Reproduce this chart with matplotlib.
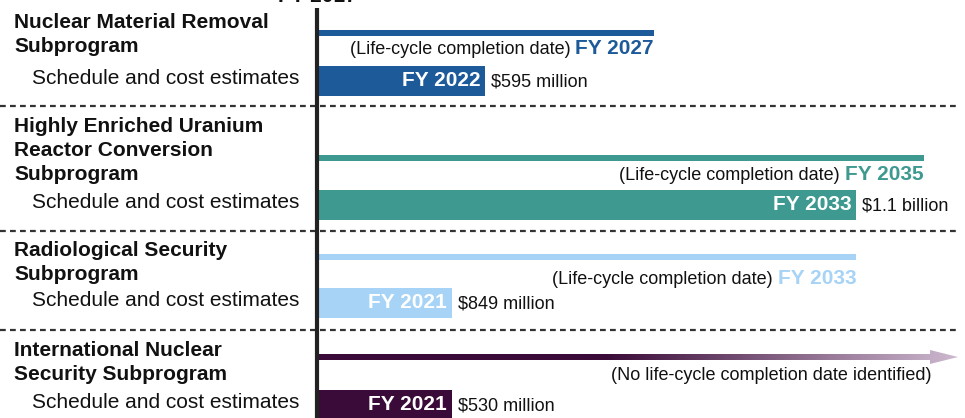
import matplotlib
matplotlib.use("Agg")
import matplotlib.pyplot as plt
import numpy as np
from matplotlib.patches import FancyArrow
from matplotlib.colors import LinearSegmentedColormap
from matplotlib.transforms import blended_transform_factory, offset_copy

plt.rcParams['font.family'] = ['Liberation Sans', 'DejaVu Sans']

# --- data ---
programs = [
    ["Nuclear Material Removal", "Subprogram"],
    ["Highly Enriched Uranium", "Reactor Conversion", "Subprogram"],
    ["Radiological Security", "Subprogram"],
    ["International Nuclear", "Security Subprogram"],
]
start_year = 2017
lifecycle_end = [2027, 2035, 2033, None]      # None = no completion date identified
estimate_end = [2022, 2033, 2021, 2021]
costs = ["$595 million", "$1.1 billion", "$849 million", "$530 million"]
colors = ["#1d5a9a", "#3e9990", "#a6d3f6", "#3a0b38"]
fade_color = "#cdb8cf"

# --- layout (y in pixels from top) ---
label_y = [22, 127, 250, 350]
line_y = [33, 158, 257, 357]
note_y = [48, 174, 278, 376]
bar_y = [81, 205, 303, 405]
sep_y = [106, 231, 330]

fig = plt.figure(figsize=(9.65, 4.18), dpi=100)
ax = fig.add_axes([0, 0, 1, 1])
px_per_year = 33.7
left = start_year - 317 / px_per_year
right = left + 965 / px_per_year
ax.set_xlim(left, right)
ax.set_ylim(418, 0)
ax.axis("off")

lab_tr = blended_transform_factory(fig.transFigure, ax.transData)

# separators
for y in sep_y:
    ax.plot([left, right - 0.15], [y, y], color="#333333", lw=1.6,
            dashes=(2.6, 1.9), solid_capstyle="butt")

for i, lines in enumerate(programs):
    c = colors[i]
    for j, t in enumerate(lines):
        ax.text(14 / 965, label_y[i] + 24 * j, t, transform=lab_tr, fontsize=15,
                fontweight="bold", va="center", ha="left", color="#111111")
    ax.text(32 / 965, bar_y[i] - 2, "Schedule and cost estimates", transform=lab_tr,
            fontsize=15, va="center", ha="left", color="#111111")

    # estimate bar
    ax.barh(bar_y[i], estimate_end[i] - start_year, left=start_year, height=30,
            color=c, edgecolor="none")
    ax.text(estimate_end[i], bar_y[i], f"FY {estimate_end[i]}",
            transform=offset_copy(ax.transData, fig=fig, x=-5, y=0, units="dots"),
            fontsize=15, fontweight="bold", color="white", ha="right", va="center")
    ax.text(estimate_end[i], bar_y[i] + 1, costs[i],
            transform=offset_copy(ax.transData, fig=fig, x=6, y=0, units="dots"),
            fontsize=13, color="#111111", ha="left", va="center")

    # life-cycle line
    if lifecycle_end[i] is not None:
        ax.barh(line_y[i], lifecycle_end[i] - start_year, left=start_year, height=5.5,
                color=c, edgecolor="none")
        fy = ax.text(lifecycle_end[i], note_y[i], f"FY {lifecycle_end[i]}",
                     fontsize=15, fontweight="bold", color=c, ha="right", va="center")
        r = fig.canvas.get_renderer()
        w = fy.get_window_extent(renderer=r).width
        ax.text(lifecycle_end[i], note_y[i] + 1, "(Life-cycle completion date)",
                transform=offset_copy(ax.transData, fig=fig, x=-w - 5, y=0, units="dots"),
                fontsize=13, color="#111111", ha="right", va="center")
    else:
        end = right - 7 / px_per_year
        arr = FancyArrow(start_year, line_y[i], end - start_year, 0, width=6,
                         head_width=14, head_length=28 / px_per_year,
                         length_includes_head=True, transform=ax.transData,
                         facecolor="none", edgecolor="none")
        ax.add_patch(arr)
        cmap = LinearSegmentedColormap.from_list("fade", [(0, c), (0.45, c), (1, fade_color)])
        grad = np.linspace(0, 1, 256).reshape(1, -1)
        im = ax.imshow(grad, cmap=cmap, aspect="auto",
                       extent=[start_year, end, line_y[i] + 8, line_y[i] - 8])
        im.set_clip_path(arr)
        ax.text(end - 26 / px_per_year, note_y[i], "(No life-cycle completion date identified)",
                fontsize=13, color="#111111", ha="right", va="center")

ax.set_xlim(left, right)
ax.set_ylim(418, 0)

# FY 2017 reference line (its label sits mostly above the top edge, as in the source)
ax.plot([start_year, start_year], [8, 420], color="#222222", lw=3, solid_capstyle="butt")
ax.text(start_year, -3.5, f"FY {start_year}", fontsize=15, fontweight="bold",
        ha="center", va="center", color="#111111", clip_on=False)

fig.savefig("out.png", dpi=100)
